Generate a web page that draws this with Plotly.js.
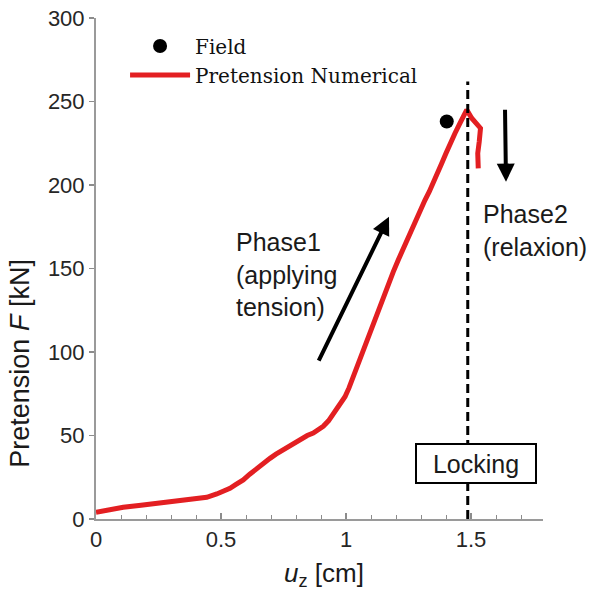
<!DOCTYPE html>
<html>
<head>
<meta charset="utf-8">
<script src="https://cdn.plot.ly/plotly-3.0.1.min.js"></script>
<style>html,body{margin:0;padding:0;background:#fff;}#chart{width:590px;height:595px;}</style>
</head>
<body>
<div id="chart"></div>
<script>
// Numerical pretension curve (uz in cm, F in kN)
var numU = [0.000, 0.050, 0.109, 0.180, 0.243, 0.310, 0.376, 0.443, 0.483, 0.510, 0.536, 0.560, 0.589, 0.615, 0.643, 0.670, 0.696, 0.720, 0.749, 0.780, 0.816, 0.845, 0.869, 0.890, 0.909, 0.930, 0.949, 0.972, 0.996, 1.012, 1.029, 1.046, 1.063, 1.080, 1.096, 1.116, 1.136, 1.152, 1.169, 1.189, 1.209, 1.229, 1.249, 1.266, 1.283, 1.300, 1.316, 1.333, 1.349, 1.366, 1.383, 1.400, 1.416, 1.436, 1.456, 1.470, 1.483, 1.503, 1.520, 1.538, 1.533, 1.527, 1.529];
var numF = [4.0, 5.5, 7.0, 8.2, 9.4, 10.6, 11.8, 13.0, 15.0, 16.5, 18.4, 20.7, 23.4, 26.8, 30.3, 33.3, 36.3, 38.8, 41.3, 44.3, 47.8, 50.0, 51.5, 53.5, 55.5, 58.8, 63.3, 67.8, 73.2, 78.5, 85.2, 92.0, 99.2, 106.0, 113.2, 120.0, 127.1, 134.0, 141.1, 148.0, 155.1, 162.0, 169.0, 175.0, 181.0, 186.0, 191.0, 196.0, 201.0, 207.0, 213.0, 219.0, 225.0, 231.0, 237.0, 241.0, 245.0, 240.0, 237.0, 234.0, 226.0, 219.0, 210.0];
// Field measurement
var fieldU = [1.403];
var fieldF = [238];
// Locking position
var lockU = 1.487;
var lockTop = 262;
// Annotation anchors
var phase1Tail = [0.888, 94], phase1Head = [1.172, 181];
var phase2Tail = [1.636, 246], phase2Head = [1.640, 202];
var phase1Pos = [0.552, 146.5];
var phase2Pos = [1.540, 173];
var lockingPos = [1.52, 33.5];
var xTicks = [0, 0.5, 1, 1.5];
var xTickText = ['0', '0.5', '1', '1.5'];
var yTicks = [0, 50, 100, 150, 200, 250, 300];

var txtFont = {family: 'Arial, "Liberation Sans", sans-serif', size: 25, color: '#1a1a1a'};
var titleFont = {family: 'Arial, "Liberation Sans", sans-serif', size: 26, color: '#1a1a1a'};
var yTitleFont = {family: 'Arial, "Liberation Sans", sans-serif', size: 27, color: '#1a1a1a'};

var traces = [
  {x: fieldU, y: fieldF, type: 'scatter', mode: 'markers', name: 'Field',
   marker: {color: '#000', size: 14, symbol: 'circle'}},
  {x: numU, y: numF, type: 'scatter', mode: 'lines', name: 'Pretension Numerical',
   line: {color: '#e31f22', width: 5}}
];

var layout = {
  width: 590, height: 595,
  margin: {l: 96, r: 47, t: 18, b: 76},
  paper_bgcolor: '#fff', plot_bgcolor: '#fff',
  showlegend: true,
  legend: {x: 0.065, y: 0.983, xanchor: 'left', yanchor: 'top', bgcolor: 'rgba(0,0,0,0)',
           itemwidth: 60, tracegroupgap: 0,
           font: {family: '"DejaVu Serif", "Liberation Serif", serif', size: 20, color: '#111'}},
  xaxis: {range: [0, 1.788], tickvals: xTicks, ticktext: xTickText, ticks: 'inside', ticklen: 6,
          tickwidth: 1.5, tickcolor: '#8c8c8c', showline: true, linecolor: '#9a9a9a', linewidth: 2,
          showgrid: false, zeroline: false, mirror: false,
          minor: {dtick: 0.1, tick0: 0, ticks: 'inside', ticklen: 4, tickcolor: '#8c8c8c', tickwidth: 1, showgrid: false},
          tickfont: {family: 'Arial, "Liberation Sans", sans-serif', size: 22, color: '#262626'}},
  yaxis: {range: [0, 300], tickvals: yTicks, ticks: 'outside', ticklen: 5, tickwidth: 1.5,
          tickcolor: '#8c8c8c', showline: true, linecolor: '#9a9a9a', linewidth: 2,
          showgrid: false, zeroline: false,
          tickfont: {family: 'Arial, "Liberation Sans", sans-serif', size: 22, color: '#262626'}},
  shapes: [
    {type: 'line', xref: 'x', yref: 'y', x0: lockU, x1: lockU, y0: 0, y1: lockTop,
     line: {color: '#000', width: 3, dash: '9px,5px'}}
  ],
  annotations: [
    {xref: 'paper', yref: 'paper', x: -0.17, y: 0.31, text: 'Pretension <i>F</i> [kN]', textangle: -90,
     showarrow: false, xanchor: 'center', yanchor: 'middle', font: yTitleFont},
    {xref: 'paper', yref: 'paper', x: 0.511, y: -0.11, text: '<i>u</i><sub>z</sub> [cm]',
     showarrow: false, xanchor: 'center', yanchor: 'middle', font: titleFont},
    {xref: 'x', yref: 'y', axref: 'x', ayref: 'y', x: phase1Head[0], y: phase1Head[1],
     ax: phase1Tail[0], ay: phase1Tail[1], text: '', showarrow: true, arrowhead: 2, arrowsize: 0.9,
     arrowwidth: 4, arrowcolor: '#000'},
    {xref: 'x', yref: 'y', axref: 'x', ayref: 'y', x: phase2Head[0], y: phase2Head[1],
     ax: phase2Tail[0], ay: phase2Tail[1], text: '', showarrow: true, arrowhead: 2, arrowsize: 0.9,
     arrowwidth: 4, arrowcolor: '#000'},
    {xref: 'x', yref: 'y', x: phase1Pos[0], y: phase1Pos[1], text: 'Phase1<br>(applying<br>tension)',
     showarrow: false, xanchor: 'left', yanchor: 'middle', align: 'left', font: txtFont},
    {xref: 'x', yref: 'y', x: phase2Pos[0], y: phase2Pos[1], text: 'Phase2<br>(relaxion)',
     showarrow: false, xanchor: 'left', yanchor: 'middle', align: 'left', font: txtFont},
    {xref: 'x', yref: 'y', x: lockingPos[0], y: lockingPos[1], text: 'Locking',
     showarrow: false, xanchor: 'center', yanchor: 'middle', align: 'center', font: txtFont,
     width: 118, height: 37, borderpad: 0, borderwidth: 2, bordercolor: '#000', bgcolor: '#fff'}
  ]
};

Plotly.newPlot('chart', traces, layout, {displayModeBar: false, staticPlot: true});
</script>
</body>
</html>
